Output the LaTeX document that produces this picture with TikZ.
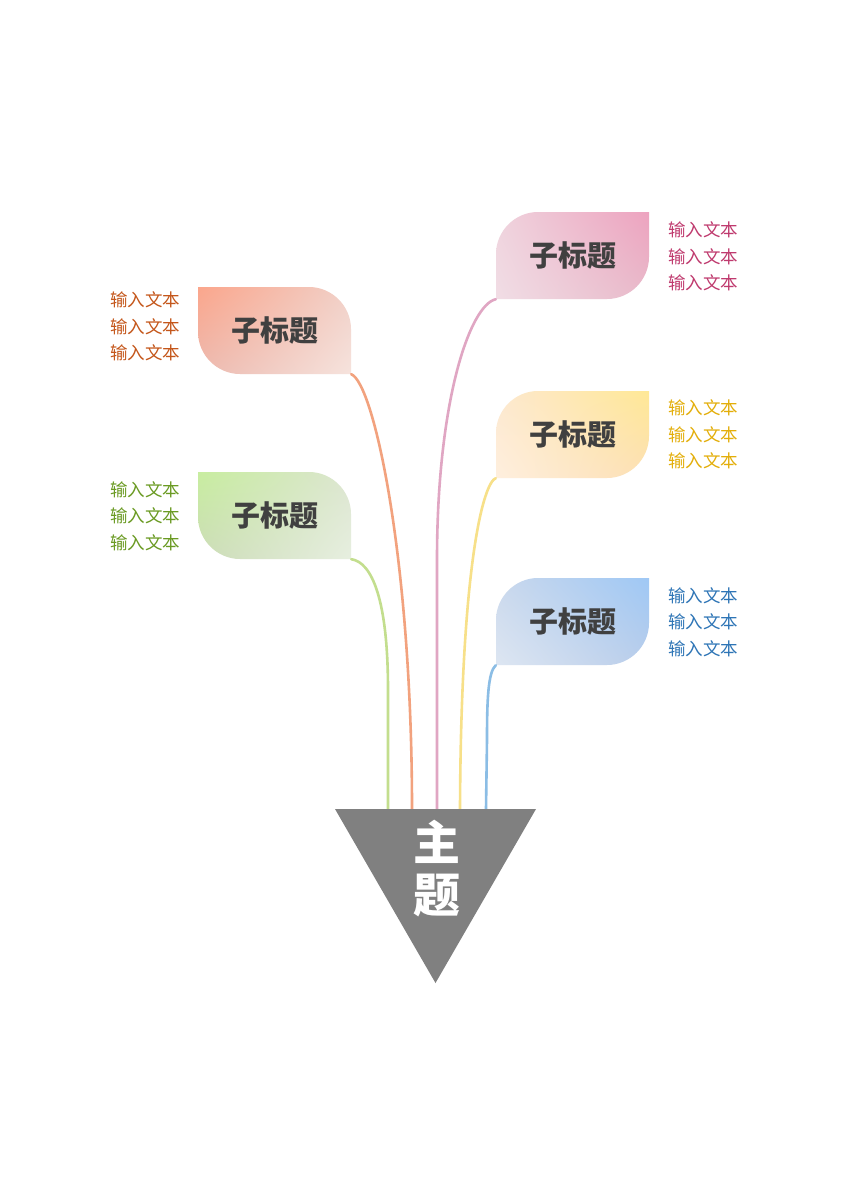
\documentclass[tikz,border=0pt]{standalone}
\usepackage{fontspec}
\usetikzlibrary{shadings}
\setmainfont{Noto Sans CJK SC}
\definecolor{titlegray}{HTML}{404040}
\definecolor{topicgray}{HTML}{808080}
% orange
\definecolor{oUL}{HTML}{FBA68C}\definecolor{oUR}{HTML}{F0D0C8}
\definecolor{oLL}{HTML}{ECBAB0}\definecolor{oLR}{HTML}{F6E3DD}
\definecolor{oLine}{HTML}{F2A27E}\definecolor{oText}{HTML}{C4561A}
% green
\definecolor{gUL}{HTML}{C8EDA0}\definecolor{gUR}{HTML}{DCE5D0}
\definecolor{gLL}{HTML}{CCDCB8}\definecolor{gLR}{HTML}{E7EFE0}
\definecolor{gLine}{HTML}{C3DE8E}\definecolor{gText}{HTML}{6A9A22}
% pink
\definecolor{pUL}{HTML}{EFD3DD}\definecolor{pUR}{HTML}{EDA3BF}
\definecolor{pLL}{HTML}{F1DDE5}\definecolor{pLR}{HTML}{E8BACA}
\definecolor{pLine}{HTML}{E0A6C3}\definecolor{pText}{HTML}{BF3A6E}
% yellow
\definecolor{yUL}{HTML}{FDE8CF}\definecolor{yUR}{HTML}{FFE896}
\definecolor{yLL}{HTML}{FEEFDE}\definecolor{yLR}{HTML}{FCDFB4}
\definecolor{yLine}{HTML}{F7E089}\definecolor{yText}{HTML}{E3AE0A}
% blue
\definecolor{bUL}{HTML}{CAD8EC}\definecolor{bUR}{HTML}{9FC8F5}
\definecolor{bLL}{HTML}{DDE6F2}\definecolor{bLR}{HTML}{B9CDEA}
\definecolor{bLine}{HTML}{8BBDE5}\definecolor{bText}{HTML}{2E75B6}
\begin{document}
\begin{tikzpicture}[x=1pt,y=-1pt,
  sub/.style={font=\fontsize{29}{30}\selectfont\bfseries, text=titlegray,
    minimum width=153pt, minimum height=87pt, inner sep=0pt,
    text height=24.4pt, text depth=2.3pt},
  item/.style={font=\fontsize{17.5}{20}\selectfont, inner sep=0pt,
    text height=14.7pt, text depth=1.4pt, anchor=west},
  topic/.style={font=\fontsize{47}{50}\selectfont\bfseries, text=white,
    inner sep=0pt, text height=39.5pt, text depth=3.8pt},
  conn/.style={line width=2.6pt, line cap=round}]
\useasboundingbox (0,0) rectangle (848,1200);
\fill[white] (0,0) rectangle (848,1200);

% leaf shapes (left: sharp TL/BR corners; right: sharp TR/BL corners)
\shade[upper left=oUL, upper right=oUR, lower left=oLL, lower right=oLR, shift={(198,287)}]
  (0,0) -- (111,0) .. controls (134,0) and (153,19) .. (153,42) -- (153,87)
  -- (42,87) .. controls (19,87) and (0,68) .. (0,45) -- cycle;
\shade[upper left=gUL, upper right=gUR, lower left=gLL, lower right=gLR, shift={(198,472)}]
  (0,0) -- (111,0) .. controls (134,0) and (153,19) .. (153,42) -- (153,87)
  -- (42,87) .. controls (19,87) and (0,68) .. (0,45) -- cycle;
\shade[upper left=pUL, upper right=pUR, lower left=pLL, lower right=pLR, shift={(496,212)}]
  (0,42) .. controls (0,19) and (19,0) .. (42,0) -- (153,0) -- (153,45)
  .. controls (153,68) and (134,87) .. (111,87) -- (0,87) -- cycle;
\shade[upper left=yUL, upper right=yUR, lower left=yLL, lower right=yLR, shift={(496,391)}]
  (0,42) .. controls (0,19) and (19,0) .. (42,0) -- (153,0) -- (153,45)
  .. controls (153,68) and (134,87) .. (111,87) -- (0,87) -- cycle;
\shade[upper left=bUL, upper right=bUR, lower left=bLL, lower right=bLR, shift={(496,578)}]
  (0,42) .. controls (0,19) and (19,0) .. (42,0) -- (153,0) -- (153,45)
  .. controls (153,68) and (134,87) .. (111,87) -- (0,87) -- cycle;

% sub-topic nodes
\node[sub] (o) at (274.5,330.5) {子标题};
\node[sub] (g) at (274.5,515.5) {子标题};
\node[sub] (p) at (572.5,255.5) {子标题};
\node[sub] (y) at (572.5,434.5) {子标题};
\node[sub] (b) at (572.5,621.5) {子标题};

% connector ends on the top of the triangle
\coordinate (t1) at (388,809);
\coordinate (t2) at (412,809);
\coordinate (t3) at (437,809);
\coordinate (t4) at (460,809);
\coordinate (t5) at (486,809);

% connectors
\draw[conn, oLine] (o.south east) .. controls (374,383) and (412,560) .. (t2);
\draw[conn, gLine] (g.south east) .. controls (372,562) and (388,600) .. (388,690) -- (t1);
\draw[conn, pLine] (p.south west) .. controls (470,305) and (437,400) .. (437,560) -- (t3);
\draw[conn, yLine] (y.south west) .. controls (484,482) and (461,560) .. (t4);
\draw[conn, bLine] (b.south west) .. controls (488,672) and (487,700) .. (487,740) -- (t5);

% main topic triangle
\fill[topicgray] (335,809) -- (536,809) -- (435.5,983) -- cycle;
\node[topic] (m1) at (436.5,843) {主};
\node[topic] (m2) at (436.5,895) {题};

% item texts
\node[item, text=oText] (o1) at (110,300) {输入文本};
\node[item, text=oText] (o2) at (110,327) {输入文本};
\node[item, text=oText] (o3) at (110,353) {输入文本};
\node[item, text=gText] (g1) at (110,490) {输入文本};
\node[item, text=gText] (g2) at (110,516) {输入文本};
\node[item, text=gText] (g3) at (110,543) {输入文本};
\node[item, text=pText] (p1) at (668,230) {输入文本};
\node[item, text=pText] (p2) at (668,257) {输入文本};
\node[item, text=pText] (p3) at (668,283) {输入文本};
\node[item, text=yText] (y1) at (668,408) {输入文本};
\node[item, text=yText] (y2) at (668,435) {输入文本};
\node[item, text=yText] (y3) at (668,461) {输入文本};
\node[item, text=bText] (b1) at (668,596) {输入文本};
\node[item, text=bText] (b2) at (668,622) {输入文本};
\node[item, text=bText] (b3) at (668,649) {输入文本};
\end{tikzpicture}
\end{document}
